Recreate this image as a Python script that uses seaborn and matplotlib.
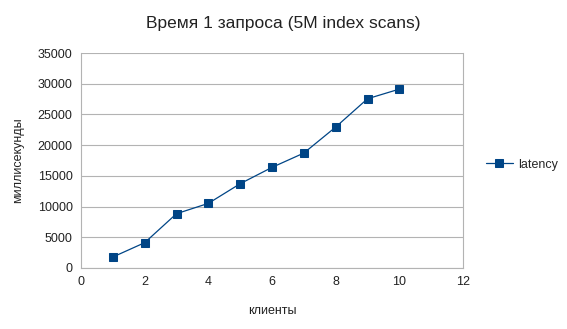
import matplotlib
matplotlib.use("Agg")
import matplotlib.pyplot as plt
import seaborn as sns
import pandas as pd

clients = [1, 2, 3, 4, 5, 6, 7, 8, 9, 10]
latency = [1790, 4120, 8840, 10520, 13720, 16380, 18710, 22940, 27550, 29120]
x_ticks = [0, 2, 4, 6, 8, 10, 12]
y_ticks = [0, 5000, 10000, 15000, 20000, 25000, 30000, 35000]

sns.set_theme(style="white")
plt.rcParams['font.family'] = ['Liberation Sans', 'DejaVu Sans']

df = pd.DataFrame({"клиенты": clients, "latency": latency, "series": "latency"})

fig = plt.figure(figsize=(5.67, 3.29), dpi=100)
ax = fig.add_axes([81/567, 1-268/329, (463-81)/567, (268-53)/329])

color = "#004586"
sns.lineplot(data=df, x="клиенты", y="latency", hue="series", palette=[color],
             marker="s", markersize=6, markeredgecolor=color, linewidth=0.9, ax=ax)

ax.set_xlim(0, 12)
ax.set_ylim(0, 35000)
ax.set_xticks(x_ticks)
ax.set_yticks(y_ticks)
ax.tick_params(axis="both", labelsize=9, length=4, width=0.8,
               direction="out", pad=2)
ax.tick_params(axis="x", colors="#b3b3b3", labelcolor="#222222")
ax.tick_params(axis="y", colors="#b3b3b3", labelcolor="#222222")
ax.grid(axis="y", color="#b3b3b3", linewidth=0.8)
for s in ["left", "bottom", "right"]:
    ax.spines[s].set_visible(True)
    ax.spines[s].set_color("#b3b3b3")
    ax.spines[s].set_linewidth(0.8)
ax.spines["top"].set_visible(False)

ax.set_xlabel("клиенты", fontsize=9, color="#222222", labelpad=12)
ax.set_ylabel("миллисекунды", fontsize=9, color="#222222", labelpad=10)
fig.suptitle("Время 1 запроса (5M index scans)", fontsize=12.5, color="#222222", y=0.95)

handles, labels = ax.get_legend_handles_labels()
ax.legend(handles, ["latency"], loc="center left", bbox_to_anchor=(1.03, 0.48),
          frameon=False, fontsize=9, handlelength=2.2, handletextpad=0.4)

fig.savefig("out.png", dpi=100)
